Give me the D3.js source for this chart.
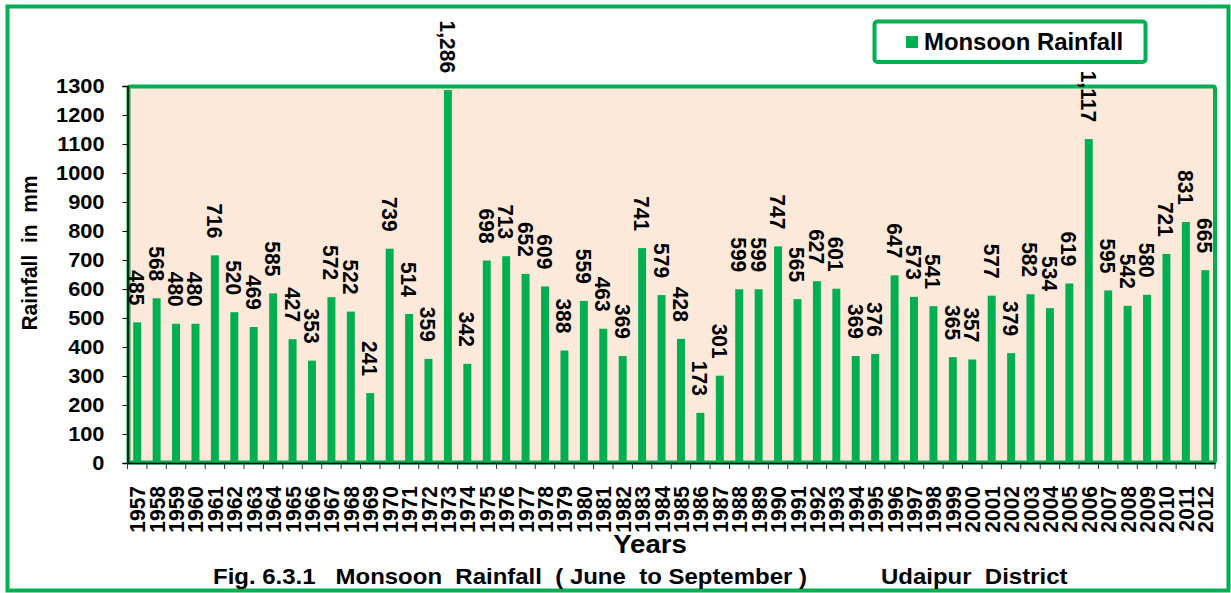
<!DOCTYPE html>
<html>
<head>
<meta charset="utf-8">
<script src="https://cdn.jsdelivr.net/npm/d3@7"></script>
<style>
  body { margin: 0; background: #fff; }
  text { font-family: "Liberation Sans", Arial, sans-serif; font-weight: bold; fill: #000; }
</style>
</head>
<body>
<div id="chart"></div>
<script>
// years on the x axis
const years = ["1957","1958","1959","1960","1961","1962","1963","1964","1965","1966",
  "1967","1968","1969","1970","1971","1972","1973","1974","1975","1976",
  "1977","1978","1979","1980","1981","1982","1983","1984","1985","1986",
  "1987","1988","1989","1990","1991","1992","1993","1994","1995","1996",
  "1997","1998","1999","2000","2001","2002","2003","2004","2005","2006",
  "2007","2008","2009","2010","2011","2012"];

// monsoon rainfall (mm), June to September
const rainfall = [485, 568, 480, 480, 716, 520, 469, 585, 427, 353,
  572, 522, 241, 739, 514, 359, 1286, 342, 698, 713,
  652, 609, 388, 559, 463, 369, 741, 579, 428, 173,
  301, 599, 599, 747, 565, 627, 601, 369, 376, 647,
  573, 541, 365, 357, 577, 379, 582, 534, 619, 1117,
  595, 542, 580, 721, 831, 665];

const yTicks = [0, 100, 200, 300, 400, 500, 600, 700, 800, 900, 1000, 1100, 1200, 1300];

const W = 1231, H = 593;
const green = "#00B050";
// the original picture is a little stretched sideways
const sx = 1.09;

const svg = d3.select("#chart").append("svg")
    .attr("width", W)
    .attr("height", H);

// outer frame
svg.append("rect")
    .attr("x", 7.5).attr("y", 6.5)
    .attr("width", 1221).attr("height", 584)
    .attr("fill", "#fff")
    .attr("stroke", green)
    .attr("stroke-width", 4);

const plot = { left: 127.5, right: 1215, top: 86, bottom: 463 };

const x = d3.scaleBand()
    .domain(years)
    .range([plot.left, plot.right])
    .paddingInner(0.59)
    .paddingOuter(0.295);

const y = d3.scaleLinear()
    .domain([0, 1300])
    .range([plot.bottom, plot.top]);

// plot area
svg.append("rect")
    .attr("x", plot.left + 1).attr("y", plot.top + 0.5)
    .attr("width", plot.right - plot.left - 1)
    .attr("height", plot.bottom - plot.top - 1)
    .attr("fill", "#FCE9DA")
    .attr("stroke", green)
    .attr("stroke-width", 4)
    .attr("rx", 2);

// bars
svg.append("g").selectAll("rect")
    .data(rainfall)
    .join("rect")
    .attr("x", (d, i) => x(years[i]))
    .attr("y", d => y(d))
    .attr("width", x.bandwidth())
    .attr("height", d => y(0) - y(d))
    .attr("fill", green);

// value labels (rotated, reading downward)
svg.append("g").selectAll("text")
    .data(rainfall)
    .join("text")
    .attr("transform", (d, i) => `translate(${x(years[i]) + x.bandwidth() / 2},${y(d) - 17}) rotate(90) scale(1,${sx})`)
    .attr("text-anchor", "end")
    .attr("dy", "0.35em")
    .style("font-size", "21px")
    .text(d => d3.format(",")(d));

// y axis
const yAxis = svg.append("g")
    .attr("transform", `translate(${plot.left},0)`)
    .call(d3.axisLeft(y).tickValues(yTicks).tickSize(5).tickPadding(18).tickFormat(d3.format("d")));
yAxis.select(".domain").attr("stroke", "#000").attr("stroke-width", 1.5);
yAxis.selectAll(".tick line").attr("stroke", "#000");
yAxis.selectAll("text")
    .style("font-size", "20px")
    .attr("x", 0)
    .attr("transform", `translate(-23,0) scale(${sx},1)`);

// x axis
const xAxis = svg.append("g")
    .attr("transform", `translate(0,${plot.bottom})`)
    .call(d3.axisBottom(x).tickSize(0).tickPadding(0));
xAxis.select(".domain").attr("stroke", "#000").attr("stroke-width", 1.5);
xAxis.selectAll("text")
    .style("font-size", "21px")
    .attr("text-anchor", "end")
    .attr("dy", "0.35em")
    .attr("transform", `translate(0,23) rotate(-90) scale(1,${sx})`)
    .attr("y", 0)
    .attr("x", 0);

// tick marks at the category boundaries
svg.append("g").selectAll("line")
    .data(d3.range(years.length + 1))
    .join("line")
    .attr("x1", i => plot.left + i * x.step())
    .attr("x2", i => plot.left + i * x.step())
    .attr("y1", plot.bottom)
    .attr("y2", plot.bottom + 6)
    .attr("stroke", "#333");

// axis titles
svg.append("text")
    .attr("transform", `translate(37,253) rotate(-90) scale(1,${sx})`)
    .attr("text-anchor", "middle")
    .style("font-size", "21px")
    .style("white-space", "pre")
    .text("Rainfall  in  mm");

svg.append("text")
    .attr("transform", "translate(650,553) scale(1.06,1)")
    .attr("text-anchor", "middle")
    .style("font-size", "26px")
    .text("Years");

// caption
svg.append("text")
    .attr("transform", `translate(213,584) scale(${sx},1)`)
    .style("font-size", "22px")
    .style("white-space", "pre")
    .text("Fig. 6.3.1   Monsoon  Rainfall  ( June  to September )");

svg.append("text")
    .attr("transform", `translate(881,584) scale(${sx},1)`)
    .style("font-size", "22px")
    .style("white-space", "pre")
    .text("Udaipur  District");

// legend
const legend = svg.append("g");
legend.append("rect")
    .attr("x", 874.5).attr("y", 21.5)
    .attr("width", 271).attr("height", 40.5)
    .attr("rx", 3)
    .attr("fill", "#fff")
    .attr("stroke", green)
    .attr("stroke-width", 4);
legend.append("rect")
    .attr("x", 906).attr("y", 36)
    .attr("width", 12).attr("height", 12)
    .attr("fill", green);
legend.append("text")
    .attr("transform", "translate(924,49.5) scale(1.04,1)")
    .style("font-size", "23px")
    .text("Monsoon Rainfall");
</script>
</body>
</html>
